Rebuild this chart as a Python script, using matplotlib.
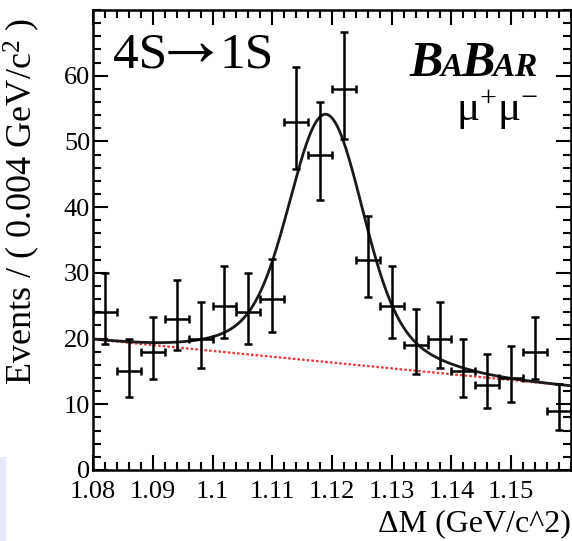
import numpy as np
import matplotlib
matplotlib.use("Agg")
import matplotlib.pyplot as plt
from matplotlib.ticker import MultipleLocator, FixedLocator, FixedFormatter
from matplotlib.patches import Rectangle

plt.rcParams['font.family'] = ['Liberation Serif', 'DejaVu Serif']
plt.rcParams['mathtext.fontset'] = 'custom'
plt.rcParams['mathtext.rm'] = 'Liberation Serif'
plt.rcParams['mathtext.it'] = 'Liberation Serif:italic'
plt.rcParams['mathtext.fallback'] = 'cm'

# ---- histogram data: bin centres (GeV/c^2) and event counts ----
bin_width = 0.004
bin_centers = [1.082, 1.086, 1.090, 1.094, 1.098, 1.102, 1.106, 1.110, 1.114, 1.118,
               1.122, 1.126, 1.130, 1.134, 1.138, 1.142, 1.146, 1.150, 1.154, 1.158]
counts = [24, 15, 18, 23, 20, 25, 24, 26, 53, 48,
          58, 32, 25, 19, 20, 15, 13, 14, 18, 9]

# ---- fitted model: double Gaussian signal on a linear background ----
sig_mean = 1.119
sig_amp_core, sig_sigma_core = 30.7, 0.0058
sig_amp_tail, sig_sigma_tail = 7.0, 0.012
bkg_lo, bkg_hi = 19.9, 12.8   # background at 1.08 and 1.16

x_ticks = [1.08, 1.09, 1.10, 1.11, 1.12, 1.13, 1.14, 1.15]
x_tick_labels = ["1.08", "1.09", "1.1", "1.11", "1.12", "1.13", "1.14", "1.15"]
y_ticks = [0, 10, 20, 30, 40, 50, 60]
y_tick_labels = ["0", "10", "20", "30", "40", "50", "60"]
x_range = (1.08, 1.16)
y_range = (0, 70)


def chi2_quantile(k, z):
    """Wilson-Hilferty approximation of the chi-square quantile."""
    c = 2.0 / (9.0 * k)
    return k * (1.0 - c + z * np.sqrt(c)) ** 3


def poisson_interval(n):
    n = np.asarray(n, dtype=float)
    lo = 0.5 * chi2_quantile(2 * n, -1.0)
    hi = 0.5 * chi2_quantile(2 * n + 2, 1.0)
    return n - lo, hi - n


def background(x):
    return bkg_lo + (bkg_hi - bkg_lo) * (x - x_range[0]) / (x_range[1] - x_range[0])


def model(x):
    core = sig_amp_core * np.exp(-0.5 * ((x - sig_mean) / sig_sigma_core) ** 2)
    tail = sig_amp_tail * np.exp(-0.5 * ((x - sig_mean) / sig_sigma_tail) ** 2)
    return background(x) + core + tail


fig = plt.figure(figsize=(5.72, 5.41), dpi=100)
fig.patches.append(Rectangle((0, 0), 6 / 572, 84 / 541, transform=fig.transFigure,
                             facecolor='#e8e8fb', edgecolor='none', zorder=0))
ax = fig.add_axes([93 / 572, 71 / 541, 478 / 572, 460 / 541])

xs = np.linspace(x_range[0], x_range[1], 600)
ax.plot(xs, background(xs), color='#e23a3a', lw=1.6, ls=(0, (1.2, 0.9)), zorder=2)
ax.plot(xs, model(xs), color='#1a1a1a', lw=2.0, zorder=3)

err_lo, err_hi = poisson_interval(counts)
ax.errorbar(bin_centers, counts, xerr=bin_width / 2, yerr=[err_lo, err_hi],
            fmt='none', ecolor='black', elinewidth=1.8, capsize=3.2,
            capthick=1.8, zorder=4)

ax.set_xlim(*x_range)
ax.set_ylim(*y_range)
ax.xaxis.set_major_locator(FixedLocator(x_ticks))
ax.xaxis.set_major_formatter(FixedFormatter(x_tick_labels))
ax.xaxis.set_minor_locator(MultipleLocator(0.002))
ax.yaxis.set_major_locator(FixedLocator(y_ticks))
ax.yaxis.set_major_formatter(FixedFormatter(y_tick_labels))
ax.yaxis.set_minor_locator(MultipleLocator(2))

ax.tick_params(which='both', direction='in', top=True, right=True,
               width=1.5, labelsize=19, colors='black')
ax.tick_params(which='major', length=11)
ax.tick_params(which='minor', length=6)
ax.tick_params(axis='x', pad=8)
ax.tick_params(axis='y', pad=2)
for s in ax.spines.values():
    s.set_linewidth(1.8)

ax.set_ylabel("Events / ( 0.004 GeV/c$^{2}$ )", fontsize=26)
ax.yaxis.set_label_coords(-0.107, 0.585)
fig.text(571 / 572, (541 - 531) / 541, "ΔM (GeV/c^2)", ha='right', va='baseline',
         fontsize=23)

renderer = fig.canvas.get_renderer()


def text_run(pieces, x_px, y_px, **common):
    """Lay out text pieces left to right starting at pixel x, baseline y."""
    for s, kw, gap in pieces:
        opts = {**common, **kw}
        dy = opts.pop('dy', 0)
        t = fig.text(x_px / 572, (541 - y_px - dy) / 541, s, ha='left',
                     va='baseline', **opts)
        x_px += t.get_window_extent(renderer=renderer).width + gap


# channel label with a long, thin arrow
text_run([("4S", {}, -14),
          ("→", {'fontsize': 54, 'dy': -2}, -9),
          ("1S", {}, 0)],
         113, 67, fontsize=37)

# BABAR logo: large B's with small-cap A, A, R
text_run([("B", {'fontsize': 36}, -2), ("A", {'fontsize': 24}, -1),
          ("B", {'fontsize': 36}, -2), ("A", {'fontsize': 24}, -1),
          ("R", {'fontsize': 24}, 0)],
         409, 76, fontweight='bold', fontstyle='italic')

fig.text(538 / 572, (541 - 121) / 541, "μ$^{+}$μ$^{-}$", fontsize=31,
         ha='right', va='baseline')

fig.savefig("out.png", dpi=100)
